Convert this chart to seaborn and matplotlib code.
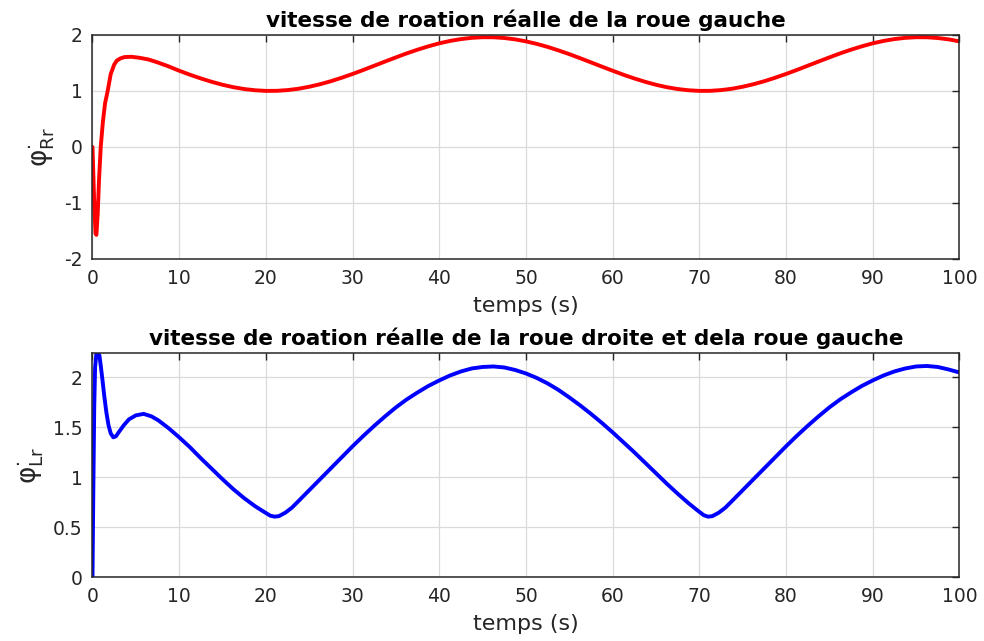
import matplotlib
matplotlib.use("Agg")
import matplotlib.pyplot as plt
import seaborn as sns
import pandas as pd
from matplotlib.ticker import FixedLocator, FormatStrFormatter

# Right wheel real rotation speed (rad/s) versus time (s)
t_right = [0, 0.1, 0.2, 0.35, 0.45, 0.6, 0.75, 0.95, 1.2, 1.45, 1.75, 2.1, 2.5,
           2.8, 3.2, 3.7, 4.5, 5.5, 6.5, 7.5, 8.75,
           10, 11.25, 12.5, 13.75, 15, 16.25, 17.5, 18.75, 20, 21.25, 22.5,
           23.75, 25, 26.25, 27.5, 28.75, 30, 31.25, 32.5, 33.75, 35, 36.25,
           37.5, 38.75, 40, 41.25, 42.5, 43.75, 45, 46.25, 47.5, 48.75, 50,
           51.25, 52.5, 53.75, 55, 56.25, 57.5, 58.75, 60, 61.25, 62.5, 63.75,
           65, 66.25, 67.5, 68.75, 70, 71.25, 72.5, 73.75, 75, 76.25, 77.5,
           78.75, 80, 81.25, 82.5, 83.75, 85, 86.25, 87.5, 88.75, 90, 91.25,
           92.5, 93.75, 95, 96.25, 97.5, 98.75, 100]
w_right = [0, -0.5, -1.0, -1.55, -1.57, -1.2, -0.6, 0.0, 0.45, 0.78, 1.0, 1.3,
           1.47, 1.54, 1.58, 1.605, 1.61, 1.59, 1.56, 1.51, 1.44,
           1.361, 1.289, 1.223, 1.163, 1.110, 1.067, 1.034, 1.012, 1.001,
           1.002, 1.015, 1.039, 1.075, 1.120, 1.174, 1.236, 1.303, 1.375,
           1.450, 1.525, 1.599, 1.671, 1.737, 1.797, 1.850, 1.893, 1.926,
           1.948, 1.959, 1.958, 1.945, 1.921, 1.885, 1.840, 1.786, 1.724,
           1.657, 1.585, 1.510, 1.435, 1.361, 1.289, 1.223, 1.163, 1.110,
           1.067, 1.034, 1.012, 1.001, 1.002, 1.015, 1.039, 1.075, 1.120,
           1.174, 1.236, 1.303, 1.375, 1.450, 1.525, 1.599, 1.671, 1.737,
           1.797, 1.850, 1.893, 1.926, 1.948, 1.959, 1.958, 1.945, 1.921,
           1.885]

# Left wheel real rotation speed (rad/s) versus time (s)
t_left = [0, 0.1, 0.2, 0.3, 0.45, 0.6, 0.8, 0.95, 1.13, 1.35, 1.6, 1.85, 2.1,
          2.4, 2.7, 3.1, 3.6, 4.2, 5.0, 5.9, 6.8, 7.6, 8.8,
          10, 11.25, 12.5, 13.75, 15, 16.25, 17.5, 18.75, 19.75, 20.5, 21,
          21.5, 22.25, 23, 23.75, 25, 26.25, 27.5, 28.75, 30, 31.25, 32.5,
          33.75, 35, 36.25, 37.5, 38.75, 40, 41.25, 42.5, 43.75, 45, 46.25,
          47.5, 48.75, 50, 51.25, 52.5, 53.75, 55, 56.25, 57.5, 58.75, 60,
          61.25, 62.5, 63.75, 65, 66.25, 67.5, 68.75, 69.75, 70.5, 71, 71.5,
          72.25, 73, 73.75, 75, 76.25, 77.5, 78.75, 80, 81.25, 82.5, 83.75,
          85, 86.25, 87.5, 88.75, 90, 91.25, 92.5, 93.75, 95, 96.25, 97.5,
          98.75, 100]
w_left = [0, 0.9, 1.7, 2.1, 2.24, 2.245, 2.22, 2.12, 1.99, 1.82, 1.65, 1.52,
          1.44, 1.40, 1.41, 1.46, 1.52, 1.58, 1.62, 1.635, 1.61, 1.57, 1.49,
          1.40, 1.30, 1.19, 1.085, 0.98, 0.88, 0.79, 0.71, 0.655, 0.615,
          0.605, 0.61, 0.645, 0.695, 0.76, 0.87, 0.98, 1.09, 1.20, 1.31,
          1.415, 1.515, 1.61, 1.70, 1.78, 1.85, 1.915, 1.97, 2.02, 2.06, 2.09,
          2.105, 2.11, 2.10, 2.075, 2.04, 1.995, 1.94, 1.875, 1.80, 1.72,
          1.635, 1.545, 1.45, 1.35, 1.25, 1.145, 1.04, 0.935, 0.835, 0.74,
          0.67, 0.62, 0.605, 0.61, 0.645, 0.695, 0.76, 0.87, 0.98, 1.09, 1.20,
          1.31, 1.415, 1.515, 1.61, 1.70, 1.78, 1.85, 1.915, 1.97, 2.02, 2.06,
          2.09, 2.11, 2.115, 2.105, 2.08, 2.05]

x_ticks = [0, 10, 20, 30, 40, 50, 60, 70, 80, 90, 100]
y_ticks_right = [-2, -1, 0, 1, 2]
y_ticks_left = [0, 0.5, 1, 1.5, 2]

title_right = "vitesse de roation réalle de la roue gauche"
title_left = "vitesse de roation réalle de la roue droite et dela roue gauche"
x_label = "temps (s)"
y_label_right = r"$\mathregular{\varphi^{\cdot}_{Rr}}$"
y_label_left = r"$\mathregular{\varphi^{\cdot}_{Lr}}$"

sns.set_theme(style="white")
plt.rcParams["font.family"] = ["DejaVu Sans"]
plt.rcParams["mathtext.fontset"] = "dejavusans"

df_right = pd.DataFrame({"t": t_right, "w": w_right})
df_left = pd.DataFrame({"t": t_left, "w": w_left})

fig = plt.figure(figsize=(9.84, 6.41), dpi=100, facecolor="white")
ax1 = fig.add_axes([0.094, 0.596, 0.881, 0.3495])
ax2 = fig.add_axes([0.094, 0.0998, 0.881, 0.3495])

ink = "#262626"

sns.lineplot(data=df_right, x="t", y="w", ax=ax1, color="#ff0000",
             linewidth=2.8, sort=False)
sns.lineplot(data=df_left, x="t", y="w", ax=ax2, color="#0000ff",
             linewidth=2.8, sort=False)

panels = [
    (ax1, y_ticks_right, (-2, 2), title_right, y_label_right),
    (ax2, y_ticks_left, (0, 2.245), title_left, y_label_left),
]
for ax, yt, ylim, title, ylab in panels:
    ax.set_xlim(0, 100)
    ax.set_ylim(*ylim)
    ax.xaxis.set_major_locator(FixedLocator(x_ticks))
    ax.yaxis.set_major_locator(FixedLocator(yt))
    ax.yaxis.set_major_formatter(FormatStrFormatter("%g"))
    ax.grid(True, color="#dadada", linewidth=0.9)
    ax.set_axisbelow(True)
    ax.tick_params(direction="in", top=True, right=True, length=5, width=1,
                   color=ink, labelcolor=ink, labelsize=13.5, pad=7)
    for sp in ax.spines.values():
        sp.set_color(ink)
        sp.set_linewidth(1.1)
        sp.set_visible(True)
    ax.set_title(title, fontsize=15.5, fontweight="bold", color="black", pad=6)
    ax.set_xlabel(x_label, fontsize=16, color=ink, labelpad=6)
    ax.set_ylabel(ylab, fontsize=19, color=ink, labelpad=5)

fig.savefig("out.png", dpi=100, facecolor="white")
